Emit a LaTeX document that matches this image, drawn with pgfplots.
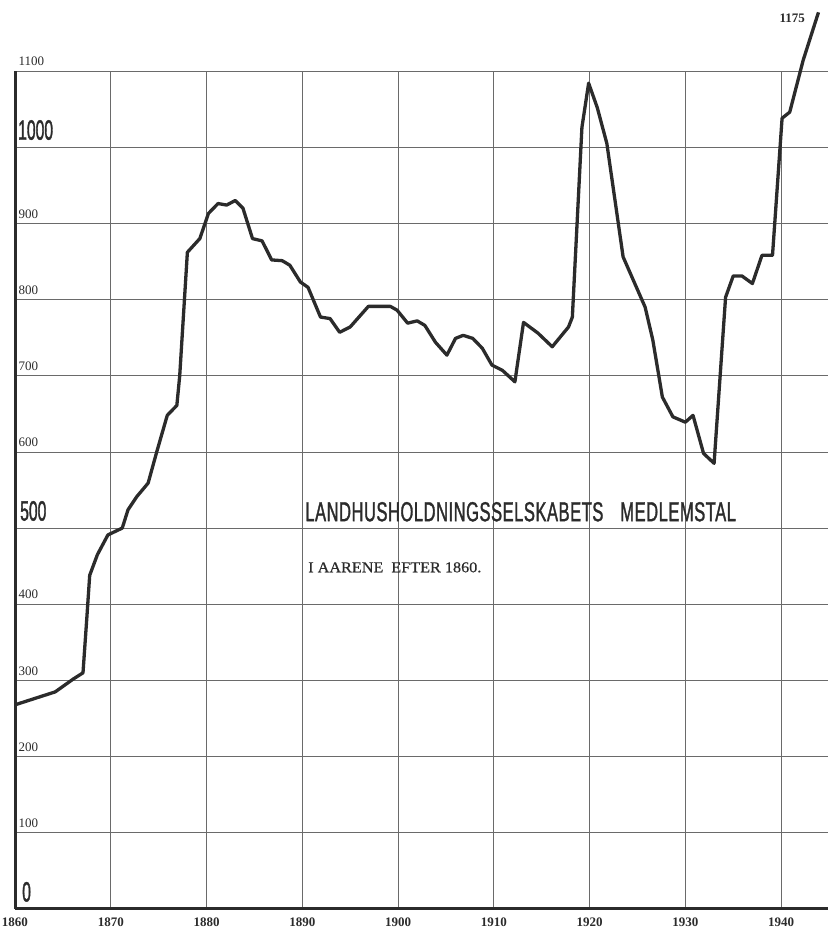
\documentclass[border=0pt]{standalone}
\usepackage{fontspec}
\setmainfont{Liberation Serif}
\newfontfamily\condbold[FakeStretch=0.56, FakeBold=1.2]{Liberation Sans}
\newfontfamily\titlefont[FakeStretch=0.6, FakeBold=1.2, LetterSpace=2]{Liberation Sans}
\newfontfamily\wideserif[FakeStretch=1.08, FakeBold=0.6]{Liberation Serif}
\usepackage{pgfplots}
\usepackage{pgfplotstable}
\pgfplotsset{compat=1.18}
\definecolor{ink}{HTML}{2B2B2B}
\definecolor{gridgray}{HTML}{6A6A6A}

% members of the society
\pgfplotstableread{
year members
1860.0 268
1864.2 285
1866.1 302
1867.1 310
1867.5 382
1867.8 438
1868.6 465
1869.7 491
1871.2 500
1871.8 524
1872.7 541
1873.9 559
1874.8 600
1875.9 648
1876.9 661
1877.2 700
1878.0 862
1879.3 880
1880.2 913
1881.2 926
1882.1 924
1883.0 930
1883.8 920
1884.8 880
1885.8 877
1886.8 852
1887.9 851
1888.7 845
1889.8 823
1890.6 816
1891.9 777
1892.9 775
1893.9 757
1895.0 764
1896.9 791
1899.2 791
1899.9 786
1901.0 769
1902.0 772
1902.8 766
1903.9 744
1905.1 727
1906.0 749
1906.8 753
1907.8 749
1908.8 736
1909.8 714
1910.9 707
1912.2 692
1913.1 770
1914.6 756
1916.1 738
1917.8 764
1918.2 777
1919.2 1026
1919.9 1084
1920.8 1052
1921.8 1005
1923.5 856
1925.8 790
1926.6 747
1927.6 672
1928.7 646
1930.0 639
1930.8 648
1931.9 598
1933.0 585
1934.2 803
1935.0 831
1935.9 831
1937.0 821
1938.0 858
1939.1 858
1940.1 1038
1940.9 1046
1942.3 1114
1943.9 1177
}\members

\newcommand\smalllab[2]{\node[anchor=south west, inner sep=0pt, xshift=3.5pt, yshift=5pt,
  font=\fontsize{13}{13}\selectfont, text=ink] at (axis cs:1860,#1) {#2};}
\newcommand\biglab[3]{\node[anchor=south west, inner sep=0pt, xshift=#3, yshift=7pt,
  font=\condbold\fontsize{28}{28}\selectfont, text=ink] at (axis cs:1860,#1) {#2};}

\begin{document}
\begin{tikzpicture}
\begin{axis}[
  name=ax,
  scale only axis,
  width=814pt, height=838pt,
  xmin=1860, xmax=1945,
  ymin=0, ymax=1100,
  xtick={1860,1870,...,1940},
  ytick={0,100,...,1100},
  yticklabels={},
  grid=major,
  major grid style={gridgray, line width=0.7pt},
  major tick length=0pt,
  axis x line*=bottom,
  axis y line*=left,
  axis line style={-, ink, line width=3pt},
  xticklabel style={font=\bfseries\fontsize{13}{13}\selectfont, text=ink, yshift=-5pt},
  /pgf/number format/1000 sep={},
  /pgf/number format/assume math mode=true,
  clip=false,
]
\addplot[ink, line width=3.3pt, line join=round] table[x=year, y=members] {\members};

\biglab{0}{0}{7pt}
\smalllab{100}{100}
\smalllab{200}{200}
\smalllab{300}{300}
\smalllab{400}{400}
\biglab{500}{500}{5pt}
\smalllab{600}{600}
\smalllab{700}{700}
\smalllab{800}{800}
\smalllab{900}{900}
\biglab{1000}{1000}{3pt}
\smalllab{1100}{1100}

\node[anchor=east, inner sep=0pt, font=\bfseries\fontsize{13}{13}\selectfont, text=ink]
  at (axis cs:1942.5,1169) {1175};

\node[anchor=base west, inner sep=0pt, font=\titlefont\fontsize{27.5}{27.5}\selectfont, text=ink]
  at (axis cs:1890.3,509) {LANDHUSHOLDNINGSSELSKABETS\hspace{17pt}MEDLEMSTAL};
\node[anchor=base west, inner sep=0pt, font=\wideserif\fontsize{15}{15}\selectfont, text=ink]
  at (axis cs:1890.6,442) {I AARENE\hspace{8pt}EFTER 1860.};
\end{axis}
\pgfresetboundingbox
\path ([xshift=-15pt,yshift=-19pt]ax.south west) rectangle ([xshift=-1pt,yshift=71pt]ax.north east);
\end{tikzpicture}
\end{document}
